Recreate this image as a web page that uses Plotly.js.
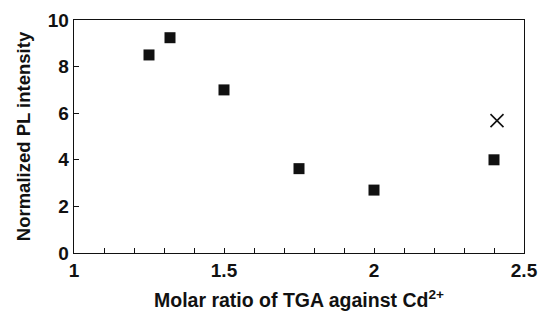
<!DOCTYPE html>
<html>
<head>
<meta charset="utf-8">
<script src="https://cdn.plot.ly/plotly-3.0.1.min.js"></script>
<style>
html,body{margin:0;padding:0;background:#fff;}
#chart{width:538px;height:317px;}
</style>
</head>
<body>
<div id="chart"></div>
<script>
const ratioSquares = [1.25, 1.32, 1.5, 1.75, 2.0, 2.4];
const plSquares = [8.5, 9.24, 7.0, 3.62, 2.7, 4.0];
const ratioCross = [2.41];
const plCross = [5.68];
const xTickVals = [1, 1.5, 2, 2.5];
const xTickText = ['1', '1.5', '2', '2.5'];
const yTickVals = [0, 2, 4, 6, 8, 10];
const yTickText = ['0', '2', '4', '6', '8', '10'];

const fam = 'Arial';

const traces = [
  {x: ratioSquares, y: plSquares, type: 'scatter', mode: 'markers', name: 'squares',
   marker: {symbol: 'square', size: 11, color: '#111'}},
  {x: ratioCross, y: plCross, type: 'scatter', mode: 'markers', name: 'cross',
   marker: {symbol: 'x-thin-open', size: 13, color: '#111', line: {color: '#111', width: 1.6}}}
];

const layout = {
  width: 538, height: 317,
  margin: {l: 74, r: 14, t: 20, b: 64},
  paper_bgcolor: '#fff', plot_bgcolor: '#fff',
  showlegend: false,
  font: {family: fam, color: '#111', weight: 'bold'},
  xaxis: {
    range: [1, 2.5], showgrid: false, zeroline: false,
    showline: true, mirror: true, linecolor: '#111', linewidth: 1.3,
    ticks: 'inside', ticklen: 5, tickwidth: 1, tickcolor: '#111',
    tickmode: 'array', tickvals: xTickVals, ticktext: xTickText,
    minor: {dtick: 0.1, tick0: 1, ticks: 'inside', ticklen: 5, tickwidth: 1, tickcolor: '#111', showgrid: false},
    tickfont: {family: fam, size: 19, color: '#111', weight: 'bold'},
    title: {text: 'Molar ratio of TGA against Cd<sup>2+</sup>', font: {family: fam, size: 19.5, color: '#111', weight: 'bold'}, standoff: 13}
  },
  yaxis: {
    range: [0, 10], showgrid: false, zeroline: false,
    showline: true, mirror: true, linecolor: '#111', linewidth: 1.3,
    ticks: 'inside', ticklen: 5, tickwidth: 1, tickcolor: '#111',
    tickmode: 'array', tickvals: yTickVals, ticktext: yTickText,
    tickfont: {family: fam, size: 19, color: '#111', weight: 'bold'},
    title: {text: 'Normalized PL intensity', font: {family: fam, size: 18.5, color: '#111', weight: 'bold'}, standoff: 12}
  }
};

Plotly.newPlot('chart', traces, layout, {displayModeBar: false, staticPlot: true});
</script>
</body>
</html>
